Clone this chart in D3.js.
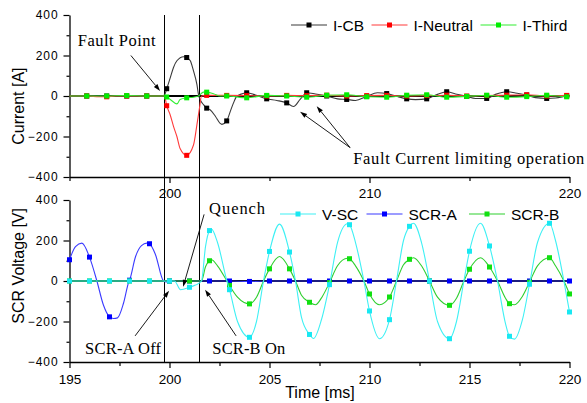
<!DOCTYPE html>
<html>
<head>
<meta charset="utf-8">
<script src="https://cdn.jsdelivr.net/npm/d3@7"></script>
<style>
  html, body { margin: 0; padding: 0; background: #fff; }
  svg { display: block; }
  text { font-family: "Liberation Sans", Arial, sans-serif; fill: #000; }
  .note { font-family: "Liberation Serif", "Times New Roman", serif; }
</style>
</head>
<body>
<svg id="chart" width="587" height="403"></svg>
<script>
// ---------- data: time [ms], value ----------
// Current panel (markers every 1 ms, at .86 of each ms)
const iCB = [
  [195,0],[195.86,0],[196.86,0],[197.86,0],[198.86,0],[199.6,0],[199.75,5],[199.86,36],
  [200.04,91],[200.2,141],[200.37,174],[200.7,194],[200.86,190],[201.04,174],[201.2,124],
  [201.37,57],[201.45,7],[201.53,-17],[201.7,-43],[201.86,-60],[202.03,-68],[202.3,-101],
  [202.53,-135],[202.62,-140],[202.86,-123],[203.04,-76],[203.2,-34],[203.37,0],[203.54,8],
  [203.86,16],[204.2,8],[204.86,-14],[205.37,-22],[205.86,-34],[206.2,-52],[206.53,-17],
  [206.86,16],[207.3,10],[207.86,0],[208.4,-14],[208.86,-17],[209.3,-22],[209.86,-2],
  [210.4,16],[210.86,12],[211.3,0],[211.86,-14],[212.3,-18],[212.86,-14],[213.4,8],
  [213.86,21],[214.3,10],[214.86,-2],[215.3,-12],[215.86,-12],[216.3,8],[216.86,21],
  [217.3,15],[217.86,5],[218.3,-8],[218.86,-12],[219.3,-10],[219.86,0],[220,2]
];
const iNeutral = [
  [195,0],[195.86,0],[196.5,-4],[196.86,-4],[197.3,0],[197.86,0],[198.86,0],[199.6,0],
  [199.75,0],[199.86,-48],[200.04,-95],[200.2,-150],[200.37,-200],[200.53,-259],
  [200.86,-293],[201.2,-242],[201.37,-143],[201.5,-59],[201.6,0],[201.86,3],[202.86,3],
  [203.86,2],[204.86,0],[205.86,3],[206.86,2],[207.86,4],[208.86,0],[209.86,2],[210.86,3],
  [211.86,0],[212.86,2],[213.86,4],[214.86,0],[215.86,2],[216.86,4],[217.86,6],[218.86,0],
  [219.86,3],[220,2]
];
const iThird = [
  [195,0],[195.86,0],[196.86,0],[197.86,2],[198.86,0],[199.75,0],[199.86,-5],[200.04,-17],
  [200.37,-39],[200.53,-17],[200.86,-9],[201.2,-6],[201.45,0],[201.7,19],[201.86,19],
  [202.2,11],[202.53,0],[202.86,0],[203.86,-9],[204.86,3],[205.86,0],[206.86,-6],
  [207.86,4],[208.86,6],[209.86,-4],[210.86,-6],[211.86,4],[212.86,6],[213.86,-6],
  [214.86,-2],[215.86,4],[216.86,-6],[217.86,-3],[218.86,4],[219.86,-4],[220,-3]
];

// Voltage panel (markers on every whole ms)
const vSC = [
  [195,0],[196,0],[197,0],[198,0],[199,0],[200,0],[200.25,0],[200.55,-43],[201,-31],
  [201.3,-20],[201.6,0],[201.8,170],[202,249],[202.1,256],[202.4,190],[202.87,0],[203,-43],
  [203.4,-200],[204,-278],[204.35,-200],[204.7,0],[205,146],[205.5,281],[206,143],[206.3,0],
  [206.6,-180],[207,-264],[207.2,-284],[207.6,-190],[208,-18],[208.4,190],[208.9,283],
  [209,278],[209.3,190],[209.72,0],[210,-148],[210.5,-285],[211,-191],[211.35,0],[211.7,200],
  [212,270],[212.2,285],[212.6,190],[213,0],[213.4,-200],[214,-285],[214.35,-200],[214.72,0],
  [215,147],[215.55,285],[216,173],[216.4,0],[216.8,-210],[217,-273],[217.25,-287],
  [217.65,-190],[218,-16],[218.4,190],[219,285],[219.3,200],[219.72,0],[220,-153]
];
const scrA = [
  [195,105],[195.3,170],[195.62,187],[196,118],[196.37,0],[196.7,-120],[197,-177],
  [197.2,-185],[197.4,-182],[197.7,-110],[197.98,0],[198,4],[198.3,120],[198.6,175],
  [198.87,187],[199,184],[199.3,130],[199.7,0],[199.85,-5],[200,0],[201,0],[202,0],
  [203,0],[204,-2],[205,0],[206,0],[207,0],[208,0],[209,0],[210,0],[211,0],[212,0],
  [213,0],[214,0],[215,0],[216,0],[217,0],[218,0],[219,0],[220,0]
];
const scrB = [
  [195,0],[196,0],[197,0],[198,0],[199,0],[200,0],[201,0],[201.6,0],[201.8,70],[202,100],
  [202.1,105],[202.4,75],[202.87,0],[203,-22],[203.4,-80],[204,-113],[204.35,-80],[204.7,0],
  [205,60],[205.5,121],[206,60],[206.3,0],[206.6,-70],[207,-105],[207.3,-117],[207.65,-75],
  [208,-8],[208.4,75],[208.9,112],[209,110],[209.3,75],[209.72,0],[210,-64],[210.5,-117],
  [211,-79],[211.35,0],[211.7,80],[212,107],[212.2,115],[212.6,75],[213,0],[213.4,-80],
  [214,-120],[214.35,-85],[214.72,0],[215,58],[215.55,115],[216,69],[216.4,0],[216.8,-85],
  [217,-112],[217.25,-117],[217.65,-75],[218,-6],[218.4,75],[219,115],[219.3,75],
  [219.72,0],[220,-64]
];

// axes
const timeDomain = [195, 220];
const valueDomain = [-400, 400];
const valueTicks = [-400, -200, 0, 200, 400];
const valueMinorTicks = [-300, -100, 100, 300];
const topTimeTicks = [200, 210, 220];
const topTimeMinorTicks = [195, 205, 215];
const bottomTimeTicks = [195, 200, 205, 210, 215, 220];
const bottomTimeMinorTicks = [197.5, 202.5, 207.5, 212.5, 217.5];

// event instants (fault / SCR-B switching) in ms
const eventTimes = [199.75, 201.5];

// series labels
const currentNames = ["I-CB", "I-Neutral", "I-Third"];
const voltageNames = ["V-SC", "SCR-A", "SCR-B"];

// ---------- drawing ----------
const svg = d3.select("#chart");

const x = d3.scaleLinear().domain(timeDomain).range([69.5, 569.5]);
const yTop = d3.scaleLinear().domain(valueDomain).range([177, 15]);
const yBot = d3.scaleLinear().domain(valueDomain).range([362, 200]);

function styleAxis(g, fontSize) {
  g.select(".domain").attr("stroke", "#000").attr("stroke-width", 1.3);
  g.selectAll(".tick line").attr("stroke", "#000").attr("stroke-width", 1.2);
  g.selectAll("text").attr("font-size", fontSize)
    .attr("font-family", "'Liberation Sans', Arial, sans-serif").attr("fill", "#000");
}

function drawAxes(y, majorT, minorT, xPad) {
  // left axis
  const gl = svg.append("g").attr("transform", `translate(${x(195)},0)`);
  gl.call(d3.axisLeft(y).tickValues(valueTicks).tickSize(6).tickSizeOuter(0).tickPadding(5)
      .tickFormat(d3.format("d")));
  styleAxis(gl, 12);
  gl.selectAll("text").attr("letter-spacing", 0.9);
  const glm = svg.append("g").attr("transform", `translate(${x(195)},0)`);
  glm.call(d3.axisLeft(y).tickValues(valueMinorTicks).tickSize(3).tickSizeOuter(0).tickFormat(""));
  styleAxis(glm, 12);
  glm.select(".domain").remove();

  // bottom axis
  const gb = svg.append("g").attr("transform", `translate(0,${y(-400)})`);
  gb.call(d3.axisBottom(x).tickValues(majorT).tickSize(6).tickSizeOuter(0).tickPadding(xPad)
      .tickFormat(d3.format("d")));
  styleAxis(gb, 13.5);
  const gbm = svg.append("g").attr("transform", `translate(0,${y(-400)})`);
  gbm.call(d3.axisBottom(x).tickValues(minorT).tickSize(4).tickSizeOuter(0).tickFormat(""));
  styleAxis(gbm, 13.5);
  gbm.select(".domain").remove();
}

drawAxes(yTop, topTimeTicks, topTimeMinorTicks, 5);
drawAxes(yBot, bottomTimeTicks, bottomTimeMinorTicks, 6);

// zero reference lines
[yTop, yBot].forEach(y => {
  svg.append("line")
    .attr("x1", x(timeDomain[0])).attr("x2", x(timeDomain[1]))
    .attr("y1", y(0)).attr("y2", y(0))
    .attr("stroke", "#000").attr("stroke-width", 1.8);
});

// event lines spanning both panels
svg.selectAll(".event").data(eventTimes).join("line")
  .attr("class", "event")
  .attr("x1", d => x(d)).attr("x2", d => x(d))
  .attr("y1", yTop(400)).attr("y2", yBot(-400))
  .attr("stroke", "#000").attr("stroke-width", 1);

function isMarkTime(t, phase) {
  const f = t - phase - Math.round(t - phase);
  return Math.abs(f) < 1e-6;
}

function drawSeries(data, y, lineColor, markColor, phase) {
  const line = d3.line().x(d => x(d[0])).y(d => y(d[1])).curve(d3.curveMonotoneX);
  svg.append("path").datum(data)
    .attr("d", line).attr("fill", "none")
    .attr("stroke", lineColor).attr("stroke-width", 1.1);
  svg.append("g").selectAll("rect")
    .data(data.filter(d => isMarkTime(d[0], phase)))
    .join("rect")
    .attr("x", d => x(d[0]) - 2.5).attr("y", d => y(d[1]) - 2.5)
    .attr("width", 5).attr("height", 5)
    .attr("fill", markColor);
}

const topPhase = 0.86, botPhase = 0;
const topSeries = [
  { data: iCB, line: "#3a3a3a", mark: "#000" },
  { data: iNeutral, line: "#ff3a3a", mark: "#ff0000" },
  { data: iThird, line: "#33ee33", mark: "#00ee00" }
];
const botSeries = [
  { data: scrA, line: "#3a3aff", mark: "#0000ff" },
  { data: scrB, line: "#2fcf2f", mark: "#11e011" },
  { data: vSC, line: "#3ef0f4", mark: "#19e8f2" }
];
topSeries.forEach(s => drawSeries(s.data, yTop, s.line, s.mark, topPhase));
botSeries.forEach(s => drawSeries(s.data, yBot, s.line, s.mark, botPhase));

// legends
function legend(names, styles, xs, yLine) {
  names.forEach((name, i) => {
    const g = svg.append("g").attr("transform", `translate(${xs[i]},${yLine})`);
    g.append("line").attr("x1", 0).attr("x2", 36).attr("y1", 0).attr("y2", 0)
      .attr("stroke", styles[i].line).attr("stroke-width", 1.1);
    g.append("rect").attr("x", 15.5).attr("y", -2.5).attr("width", 5).attr("height", 5)
      .attr("fill", styles[i].mark);
    g.append("text").attr("x", 42).attr("y", 5.5).attr("font-size", 15.5).text(name);
  });
}
legend(currentNames, topSeries, [291, 371.5, 480.5], 25);
legend(voltageNames, [botSeries[2], botSeries[0], botSeries[1]], [280, 366.5, 469], 214);

// axis titles
svg.append("text").attr("transform", `translate(24,${yTop(-50)}) rotate(-90)`)
  .attr("text-anchor", "middle").attr("font-size", 16).text("Current [A]");
svg.append("text").attr("transform", `translate(24,${yBot(75)}) rotate(-90)`)
  .attr("text-anchor", "middle").attr("font-size", 16).text("SCR Voltage [V]");
svg.append("text").attr("x", 320).attr("y", 398)
  .attr("text-anchor", "middle").attr("font-size", 16).text("Time [ms]");

// annotations: text anchor and arrows, in (time, value) of each panel
const notes = [
  { text: "Fault Point", y: yTop, at: [195.41, 245], width: 78,
    arrows: [[[198.07, 200], [199.53, 25]]] },
  { text: "Fault Current limiting operation", y: yTop, at: [209.19, -335], width: 231,
    arrows: [[[209.03, -255], [206.53, -78]], [[209.03, -255], [207.36, -50]]] },
  { text: "Quench", y: yBot, at: [201.98, 332], width: 56,
    arrows: [[[201.73, 329], [200.68, -29]]] },
  { text: "SCR-A Off", y: yBot, at: [195.78, -361], width: 76,
    arrows: [[[198.28, -271], [199.98, -48]]] },
  { text: "SCR-B On", y: yBot, at: [202.14, -361], width: 73,
    arrows: [[[203.33, -271], [201.78, -43]]] }
];

notes.forEach(n => {
  svg.append("text").attr("class", "note")
    .attr("x", x(n.at[0])).attr("y", n.y(n.at[1]))
    .attr("font-size", 16.5)
    .attr("textLength", n.width).attr("lengthAdjust", "spacing")
    .text(n.text);
  n.arrows.forEach(([a, b]) => {
    const x1 = x(a[0]), y1 = n.y(a[1]), x2 = x(b[0]), y2 = n.y(b[1]);
    const ang = Math.atan2(y2 - y1, x2 - x1);
    const len = 7, hw = 2.3;
    const bx = x2 - len * Math.cos(ang), by = y2 - len * Math.sin(ang);
    svg.append("line").attr("x1", x1).attr("y1", y1).attr("x2", bx).attr("y2", by)
      .attr("stroke", "#000").attr("stroke-width", 0.9);
    const px = -Math.sin(ang) * hw, py = Math.cos(ang) * hw;
    svg.append("path")
      .attr("d", `M${x2},${y2}L${bx + px},${by + py}L${bx - px},${by - py}Z`)
      .attr("fill", "#000");
  });
});
</script>
</body>
</html>
